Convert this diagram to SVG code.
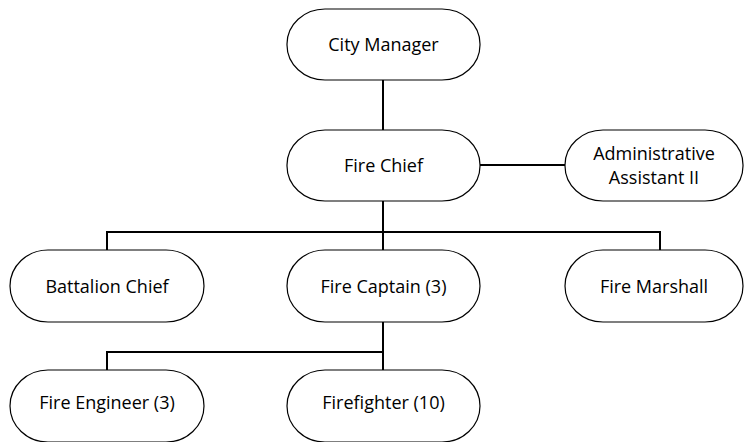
<svg xmlns="http://www.w3.org/2000/svg" width="745" height="442" viewBox="0 0 745 442">
<style>
.box{fill:#fff;stroke:#000;stroke-width:1.2}
.lbl{font-family:"Open Sans","Liberation Sans",sans-serif;font-size:18px;fill:#000;text-anchor:middle}
.con{stroke:#000;stroke-width:2;fill:none}
</style>
<rect width="745" height="442" fill="#fff"/>
<g id="connectors">
<path class="con" d="M383,80V130"/>
<path class="con" d="M480,165H565"/>
<path class="con" d="M383,201V250M107,250V232H660V250"/>
<path class="con" d="M383,322V370M107,370V352H383"/>
</g>
<g id="city-manager"><rect class="box" x="287" y="9" width="193" height="71" rx="38" ry="35"/><text class="lbl" x="383.5" y="51">City Manager</text></g>
<g id="fire-chief"><rect class="box" x="287" y="130" width="193" height="71" rx="38" ry="35"/><text class="lbl" x="383.5" y="172">Fire Chief</text></g>
<g id="admin-assistant"><rect class="box" x="565" y="130" width="178" height="71" rx="38" ry="35"/><text class="lbl" x="654" y="160">Administrative</text><text class="lbl" x="654" y="184">Assistant II</text></g>
<g id="battalion-chief"><rect class="box" x="10" y="250" width="194" height="72" rx="38" ry="36"/><text class="lbl" x="107" y="293">Battalion Chief</text></g>
<g id="fire-captain"><rect class="box" x="287" y="250" width="193" height="72" rx="38" ry="36"/><text class="lbl" x="383.5" y="293">Fire Captain (3)</text></g>
<g id="fire-marshall"><rect class="box" x="565" y="250" width="178" height="72" rx="38" ry="36"/><text class="lbl" x="654" y="293">Fire Marshall</text></g>
<g id="fire-engineer"><rect class="box" x="10" y="370" width="194" height="72" rx="38" ry="36"/><text class="lbl" x="107" y="409">Fire Engineer (3)</text></g>
<g id="firefighter"><rect class="box" x="287" y="370" width="193" height="72" rx="38" ry="36"/><text class="lbl" x="383.5" y="409">Firefighter (10)</text></g>
</svg>
